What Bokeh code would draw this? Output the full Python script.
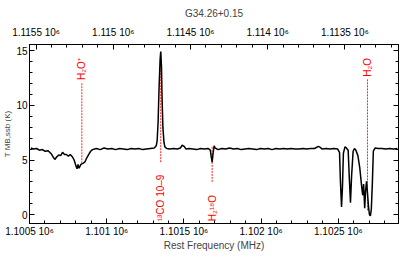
import math
from bokeh.plotting import figure
from bokeh.models import Range1d, LinearAxis, FixedTicker, ColumnDataSource
from bokeh.embed import file_html
from bokeh.resources import INLINE
from bokeh.core.properties import value

# ---- data: rest frequency (MHz) and T_MB,ssb (K) ----
freq = [1100508, 1100527, 1100546, 1100564, 1100583, 1100602, 1100621, 1100639,
        1100652, 1100664, 1100677, 1100689, 1100702, 1100714, 1100727, 1100739,
        1100752, 1100764, 1100777, 1100789, 1100802, 1100808, 1100814, 1100821,
        1100833, 1100846, 1100858, 1100871, 1100883, 1100896, 1100908, 1100921,
        1100933, 1100958, 1100983, 1101008, 1101033, 1101058, 1101083, 1101108,
        1101133, 1101158, 1101183, 1101208, 1101233, 1101258, 1101283, 1101308,
        1101321, 1101327, 1101333, 1101339, 1101346, 1101350, 1101355, 1101358,
        1101364, 1101371, 1101377, 1101389, 1101408, 1101433, 1101458, 1101477,
        1101489, 1101502, 1101514, 1101533, 1101558, 1101583, 1101608, 1101633,
        1101658, 1101671, 1101677, 1101683, 1101689, 1101696, 1101702, 1101721,
        1101746, 1101771, 1101796, 1101821, 1101846, 1101871, 1101896, 1101921,
        1101946, 1101971, 1101996, 1102021, 1102046, 1102071, 1102096, 1102121,
        1102146, 1102171, 1102196, 1102221, 1102246, 1102271, 1102296, 1102321,
        1102346, 1102371, 1102383, 1102396, 1102421, 1102446, 1102471, 1102496,
        1102508, 1102514, 1102521, 1102527, 1102533, 1102543, 1102552, 1102564,
        1102571, 1102579, 1102586, 1102596, 1102605, 1102614, 1102627, 1102639,
        1102652, 1102658, 1102664, 1102671, 1102677, 1102683, 1102689, 1102696,
        1102702, 1102708, 1102714, 1102721, 1102727, 1102739, 1102758, 1102783,
        1102808, 1102833, 1102858, 1102883]
tmb = [6.1, 6.0, 6.05, 5.9, 5.95, 5.8, 5.85, 5.6,
       5.3, 5.05, 5.3, 5.45, 5.4, 5.7, 5.5, 5.5,
       5.35, 5.5, 5.3, 5.0, 4.4, 4.2, 4.6, 4.25,
       4.6, 4.7, 4.8, 5.2, 5.5, 5.8, 5.95, 6.0,
       6.05, 5.95, 6.1, 6.0, 6.05, 5.95, 6.05, 6.0,
       5.95, 6.05, 6.0, 6.05, 5.95, 6.0, 6.05, 6.1,
       6.3, 6.8, 8.5, 11.5, 14.2, 14.9, 13.5, 11.0,
       8.0, 6.6, 6.2, 6.05, 6.0, 6.05, 6.0, 6.1,
       6.35, 6.25, 6.0, 6.05, 6.0, 5.95, 6.05, 6.0,
       6.05, 5.9, 5.3, 4.8, 5.6, 6.3, 6.1, 5.95,
       6.05, 6.0, 6.1, 6.0, 6.05, 5.95, 6.0, 6.05,
       6.0, 5.95, 6.05, 6.0, 6.05, 5.95, 6.05, 6.0,
       6.05, 6.0, 6.05, 6.0, 6.0, 6.05, 6.0, 6.05,
       6.05, 6.25, 6.15, 6.0, 6.05, 6.0, 6.05, 6.0,
       5.7, 3.0, 0.7, 2.5, 5.6, 6.2, 6.1, 5.9,
       3.5, 1.1, 3.5, 5.8, 6.05, 5.9, 5.4, 4.3,
       2.5, 1.8, 2.8, 0.6, 2.2, 3.05, 2.0, 0.7,
       0.0, -0.1, 0.5, 3.0, 5.8, 6.1, 6.05, 6.05,
       6.0, 6.05, 6.0, 6.05]

# identified lines
line_names = ["H\u2082O\u207a", "\u00b9\u00b3CO 10\u20139", "H\u2082\u00b9\u2078O", "H\u2082O"]
line_freq = [1100839, 1101350, 1101683, 1102689]
line_bottom = [4.7, 4.8, 3.0, 0.4]
line_top = [12.0, 14.9, 6.3, 12.4]
label_y = [12.3, -0.6, -0.6, 12.6]

# axes
x_ticks = [1100500, 1101000, 1101500, 1102000, 1102500]
x_tick_labels = ["1.1005 10\u2076", "1.101 10\u2076", "1.1015 10\u2076", "1.102 10\u2076", "1.1025 10\u2076"]
top_ticks = [1115500, 1115000, 1114500, 1114000, 1113500]
top_tick_labels = ["1.1155 10\u2076", "1.115 10\u2076", "1.1145 10\u2076", "1.114 10\u2076", "1.1135 10\u2076"]
y_ticks = [0, 5, 10, 15]
title_text = "G34.26+0.15"
x_label = "Rest Frequency (MHz)"
y_label = "T MB,ssb (K)"
freq_sum = 2216042.5   # signal + image frequency
x_start, x_end = 1100500, 1102890
y_start, y_end = -0.8, 15.55

FONT = "Liberation Sans"

p = figure(width=399, height=253, output_backend="svg", toolbar_location=None,
           x_range=Range1d(x_start, x_end), y_range=Range1d(y_start, y_end),
           min_border_left=24, min_border_right=1, min_border_top=37, min_border_bottom=20)
p.title.text = title_text
p.title.align = "center"
p.title.text_font = FONT
p.title.text_font_size = "10px"
p.title.text_font_style = "normal"
p.extra_x_ranges = {"img": Range1d(freq_sum - x_start, freq_sum - x_end)}
p.xgrid.grid_line_color = None
p.ygrid.grid_line_color = None
p.outline_line_color = "black"

def style(ax, show_labels=True):
    ax.axis_line_color = "black"
    ax.major_tick_line_color = "black"
    ax.minor_tick_line_color = "black"
    ax.major_tick_in = 5
    ax.major_tick_out = 0
    ax.minor_tick_in = 3
    ax.minor_tick_out = 0
    ax.major_label_text_font = FONT
    ax.major_label_text_color = "black"
    ax.major_label_text_font_size = "10px" if show_labels else "0px"
    ax.major_label_standoff = 4 if show_labels else 0

bx = p.xaxis[0]
bx.ticker = FixedTicker(ticks=x_ticks, minor_ticks=[1100500 + 100 * i for i in range(24)])
bx.major_label_overrides = dict(zip(x_ticks, x_tick_labels))
style(bx)
bx.major_label_standoff = 2
bx.axis_label = x_label
bx.axis_label_text_font = FONT
bx.axis_label_text_font_size = "10px"
bx.axis_label_text_font_style = "normal"
bx.axis_label_standoff = 0

ly = p.yaxis[0]
ly.ticker = FixedTicker(ticks=y_ticks, minor_ticks=list(range(0, 16)))
style(ly)
ly.major_label_standoff = 2
ly.axis_label = y_label
ly.axis_label_text_font = FONT
ly.axis_label_text_font_size = "8px"
ly.axis_label_text_font_style = "normal"
ly.axis_label_standoff = 1

tx = LinearAxis(x_range_name="img",
                ticker=FixedTicker(ticks=top_ticks, minor_ticks=[1115500 - 100 * i for i in range(24)]))
tx.major_label_overrides = dict(zip(top_ticks, top_tick_labels))
style(tx)
tx.major_label_standoff = 7
p.add_layout(tx, "above")

ry = LinearAxis(ticker=FixedTicker(ticks=y_ticks, minor_ticks=list(range(0, 16))))
style(ry, show_labels=False)
p.add_layout(ry, "right")

# marker lines and labels
msrc = ColumnDataSource(dict(x=line_freq, y0=line_bottom, y1=line_top, ly=label_y, name=line_names))
p.segment(x0="x", y0="y0", x1="x", y1="y1", source=msrc, line_color="#ff2020",
          line_width=1, line_dash="2 1")
p.text(x="x", y="ly", text="name", source=msrc, angle=math.pi / 2,
       text_align="left", text_baseline="middle", text_color="red",
       text_font=value(FONT), text_font_size="10px")

# spectrum
p.line(freq, tmb, line_color="black", line_width=1.5)

open("out.html", "w").write(file_html(p, INLINE))
